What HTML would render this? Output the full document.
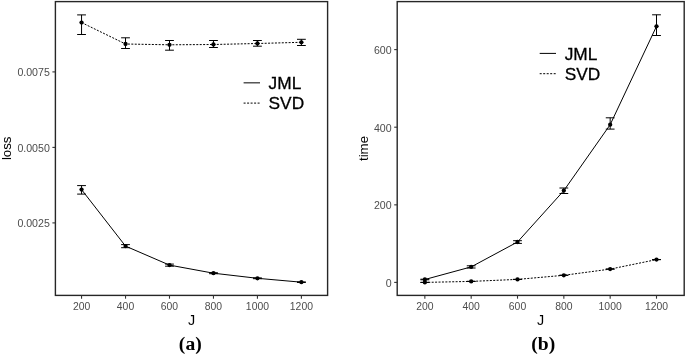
<!DOCTYPE html>
<html><head><meta charset="utf-8"><title>Figure</title>
<style>
html,body{margin:0;padding:0;background:#fff;}
body{width:685px;height:355px;overflow:hidden;}
svg{display:block;}
.ax{font-family:"Liberation Sans",Arial,Helvetica,sans-serif;font-size:10.6px;fill:#4d4d4d;}
.axx{font-family:"Liberation Sans",Arial,Helvetica,sans-serif;font-size:10.4px;fill:#4d4d4d;}
.tj{font-family:"Liberation Sans",Arial,Helvetica,sans-serif;font-size:14.4px;fill:#000;}
.ti{font-family:"Liberation Sans",Arial,Helvetica,sans-serif;font-size:13.25px;fill:#000;}
.lg{font-family:"Liberation Sans",Arial,Helvetica,sans-serif;font-size:17.3px;fill:#000;stroke:#000;stroke-width:0.3px;}
.cap{font-family:"Liberation Serif","Times New Roman",serif;font-weight:bold;font-size:19.6px;fill:#000;}
</style></head><body>
<svg width="685" height="355" viewBox="0 0 685 355">
<rect width="685" height="355" fill="#fff"/>
<rect x="55.4" y="1.6" width="272.2" height="293.8" fill="none" stroke="#262626" stroke-width="1.4"/>
<line x1="81.55" y1="295.4" x2="81.55" y2="298.7" stroke="#333" stroke-width="1.1"/>
<text class="axx" x="81.55" y="309.6" text-anchor="middle">200</text>
<line x1="125.52" y1="295.4" x2="125.52" y2="298.7" stroke="#333" stroke-width="1.1"/>
<text class="axx" x="125.52" y="309.6" text-anchor="middle">400</text>
<line x1="169.49" y1="295.4" x2="169.49" y2="298.7" stroke="#333" stroke-width="1.1"/>
<text class="axx" x="169.49" y="309.6" text-anchor="middle">600</text>
<line x1="213.46" y1="295.4" x2="213.46" y2="298.7" stroke="#333" stroke-width="1.1"/>
<text class="axx" x="213.46" y="309.6" text-anchor="middle">800</text>
<line x1="257.43" y1="295.4" x2="257.43" y2="298.7" stroke="#333" stroke-width="1.1"/>
<text class="axx" x="257.43" y="309.6" text-anchor="middle">1000</text>
<line x1="301.4" y1="295.4" x2="301.4" y2="298.7" stroke="#333" stroke-width="1.1"/>
<text class="axx" x="301.4" y="309.6" text-anchor="middle">1200</text>
<line x1="52.4" y1="71.9" x2="55.4" y2="71.9" stroke="#333" stroke-width="1.1"/>
<text class="ax" x="49.8" y="76.2" text-anchor="end">0.0075</text>
<line x1="52.4" y1="147.4" x2="55.4" y2="147.4" stroke="#333" stroke-width="1.1"/>
<text class="ax" x="49.8" y="151.7" text-anchor="end">0.0050</text>
<line x1="52.4" y1="222.9" x2="55.4" y2="222.9" stroke="#333" stroke-width="1.1"/>
<text class="ax" x="49.8" y="227.2" text-anchor="end">0.0025</text>
<path d="M81.55 22.55L125.52 44L169.49 44.8L213.46 44.5L257.43 43.5L301.4 42.3" fill="none" stroke="#000" stroke-width="1.0" stroke-dasharray="2 1.42"/>
<path d="M77.15 14.9H85.95M77.15 34.5H85.95M81.55 14.9V34.5" stroke="#000" stroke-width="1.0" fill="none"/>
<circle cx="81.55" cy="22.55" r="2.15" fill="#000"/>
<path d="M121.12 37.8H129.92M121.12 48.5H129.92M125.52 37.8V48.5" stroke="#000" stroke-width="1.0" fill="none"/>
<circle cx="125.52" cy="44" r="2.15" fill="#000"/>
<path d="M165.09 40.5H173.89M165.09 50.2H173.89M169.49 40.5V50.2" stroke="#000" stroke-width="1.0" fill="none"/>
<circle cx="169.49" cy="44.8" r="2.15" fill="#000"/>
<path d="M209.06 40.5H217.86M209.06 47.5H217.86M213.46 40.5V47.5" stroke="#000" stroke-width="1.0" fill="none"/>
<circle cx="213.46" cy="44.5" r="2.15" fill="#000"/>
<path d="M253.03 40.5H261.83M253.03 46.2H261.83M257.43 40.5V46.2" stroke="#000" stroke-width="1.0" fill="none"/>
<circle cx="257.43" cy="43.5" r="2.15" fill="#000"/>
<path d="M297 39.3H305.8M297 45.5H305.8M301.4 39.3V45.5" stroke="#000" stroke-width="1.0" fill="none"/>
<circle cx="301.4" cy="42.3" r="2.15" fill="#000"/>
<path d="M81.55 189.6L125.52 246.1L169.49 265.1L213.46 273.2L257.43 278.3L301.4 282.2" fill="none" stroke="#000" stroke-width="1.0"/>
<path d="M77.15 185.6H85.95M77.15 194.1H85.95M81.55 185.6V194.1" stroke="#000" stroke-width="1.0" fill="none"/>
<circle cx="81.55" cy="189.6" r="2.15" fill="#000"/>
<path d="M121.12 244.6H129.92M121.12 247.7H129.92M125.52 244.6V247.7" stroke="#000" stroke-width="1.0" fill="none"/>
<circle cx="125.52" cy="246.1" r="2.15" fill="#000"/>
<path d="M165.09 264.1H173.89M165.09 266.2H173.89M169.49 264.1V266.2" stroke="#000" stroke-width="1.0" fill="none"/>
<circle cx="169.49" cy="265.1" r="2.15" fill="#000"/>
<path d="M209.06 272.7H217.86M209.06 273.7H217.86M213.46 272.7V273.7" stroke="#000" stroke-width="1.0" fill="none"/>
<circle cx="213.46" cy="273.2" r="2.15" fill="#000"/>
<path d="M253.03 277.9H261.83M253.03 278.7H261.83M257.43 277.9V278.7" stroke="#000" stroke-width="1.0" fill="none"/>
<circle cx="257.43" cy="278.3" r="2.15" fill="#000"/>
<path d="M297 281.9H305.8M297 282.5H305.8M301.4 281.9V282.5" stroke="#000" stroke-width="1.0" fill="none"/>
<circle cx="301.4" cy="282.2" r="2.15" fill="#000"/>
<line x1="243.6" y1="82.85" x2="260" y2="82.85" stroke="#000" stroke-width="1.0"/>
<line x1="243.6" y1="103.1" x2="260" y2="103.1" stroke="#000" stroke-width="1.0" stroke-dasharray="2 1.5"/>
<text class="lg" x="268.6" y="88.9">JML</text>
<text class="lg" x="268.6" y="109.2">SVD</text>
<text class="ti" transform="translate(10.8 148.3) rotate(-90)" text-anchor="middle">loss</text>
<text class="tj" x="191.7" y="324.5" text-anchor="middle">J</text>
<text class="cap" x="190.3" y="350.2" text-anchor="middle">(a)</text>
<rect x="397.2" y="1.6" width="287" height="293.8" fill="none" stroke="#262626" stroke-width="1.4"/>
<line x1="424.85" y1="295.4" x2="424.85" y2="298.7" stroke="#333" stroke-width="1.1"/>
<text class="axx" x="424.85" y="309.6" text-anchor="middle">200</text>
<line x1="471.18" y1="295.4" x2="471.18" y2="298.7" stroke="#333" stroke-width="1.1"/>
<text class="axx" x="471.18" y="309.6" text-anchor="middle">400</text>
<line x1="517.51" y1="295.4" x2="517.51" y2="298.7" stroke="#333" stroke-width="1.1"/>
<text class="axx" x="517.51" y="309.6" text-anchor="middle">600</text>
<line x1="563.84" y1="295.4" x2="563.84" y2="298.7" stroke="#333" stroke-width="1.1"/>
<text class="axx" x="563.84" y="309.6" text-anchor="middle">800</text>
<line x1="610.17" y1="295.4" x2="610.17" y2="298.7" stroke="#333" stroke-width="1.1"/>
<text class="axx" x="610.17" y="309.6" text-anchor="middle">1000</text>
<line x1="656.5" y1="295.4" x2="656.5" y2="298.7" stroke="#333" stroke-width="1.1"/>
<text class="axx" x="656.5" y="309.6" text-anchor="middle">1200</text>
<line x1="394.2" y1="49.6" x2="397.2" y2="49.6" stroke="#333" stroke-width="1.1"/>
<text class="ax" x="391.6" y="53.9" text-anchor="end">600</text>
<line x1="394.2" y1="127.2" x2="397.2" y2="127.2" stroke="#333" stroke-width="1.1"/>
<text class="ax" x="391.6" y="131.5" text-anchor="end">400</text>
<line x1="394.2" y1="204.85" x2="397.2" y2="204.85" stroke="#333" stroke-width="1.1"/>
<text class="ax" x="391.6" y="209.15" text-anchor="end">200</text>
<line x1="394.2" y1="282.4" x2="397.2" y2="282.4" stroke="#333" stroke-width="1.1"/>
<text class="ax" x="391.6" y="286.7" text-anchor="end">0</text>
<path d="M424.85 282.4L471.18 281.4L517.51 279.4L563.84 275.3L610.17 269.1L656.5 259.6" fill="none" stroke="#000" stroke-width="1.0" stroke-dasharray="2 1.42"/>
<path d="M420.45 282.3H429.25M420.45 282.5H429.25M424.85 282.3V282.5" stroke="#000" stroke-width="1.0" fill="none"/>
<circle cx="424.85" cy="282.4" r="2.15" fill="#000"/>
<path d="M466.78 281.3H475.58M466.78 281.5H475.58M471.18 281.3V281.5" stroke="#000" stroke-width="1.0" fill="none"/>
<circle cx="471.18" cy="281.4" r="2.15" fill="#000"/>
<path d="M513.11 279.3H521.91M513.11 279.5H521.91M517.51 279.3V279.5" stroke="#000" stroke-width="1.0" fill="none"/>
<circle cx="517.51" cy="279.4" r="2.15" fill="#000"/>
<path d="M559.44 275.2H568.24M559.44 275.4H568.24M563.84 275.2V275.4" stroke="#000" stroke-width="1.0" fill="none"/>
<circle cx="563.84" cy="275.3" r="2.15" fill="#000"/>
<path d="M605.77 269H614.57M605.77 269.2H614.57M610.17 269V269.2" stroke="#000" stroke-width="1.0" fill="none"/>
<circle cx="610.17" cy="269.1" r="2.15" fill="#000"/>
<path d="M652.1 259.5H660.9M652.1 259.7H660.9M656.5 259.5V259.7" stroke="#000" stroke-width="1.0" fill="none"/>
<circle cx="656.5" cy="259.6" r="2.15" fill="#000"/>
<path d="M424.85 279.5L471.18 266.9L517.51 242L563.84 190.6L610.17 124.7L656.5 26.3" fill="none" stroke="#000" stroke-width="1.0"/>
<path d="M420.45 279.2H429.25M420.45 279.8H429.25M424.85 279.2V279.8" stroke="#000" stroke-width="1.0" fill="none"/>
<circle cx="424.85" cy="279.5" r="2.15" fill="#000"/>
<path d="M466.78 265.8H475.58M466.78 268H475.58M471.18 265.8V268" stroke="#000" stroke-width="1.0" fill="none"/>
<circle cx="471.18" cy="266.9" r="2.15" fill="#000"/>
<path d="M513.11 240.7H521.91M513.11 243.4H521.91M517.51 240.7V243.4" stroke="#000" stroke-width="1.0" fill="none"/>
<circle cx="517.51" cy="242" r="2.15" fill="#000"/>
<path d="M559.44 188H568.24M559.44 193.5H568.24M563.84 188V193.5" stroke="#000" stroke-width="1.0" fill="none"/>
<circle cx="563.84" cy="190.6" r="2.15" fill="#000"/>
<path d="M605.77 117.8H614.57M605.77 129.1H614.57M610.17 117.8V129.1" stroke="#000" stroke-width="1.0" fill="none"/>
<circle cx="610.17" cy="124.7" r="2.15" fill="#000"/>
<path d="M652.1 14.8H660.9M652.1 35.5H660.9M656.5 14.8V35.5" stroke="#000" stroke-width="1.0" fill="none"/>
<circle cx="656.5" cy="26.3" r="2.15" fill="#000"/>
<line x1="539.7" y1="53.4" x2="556" y2="53.4" stroke="#000" stroke-width="1.0"/>
<line x1="539.7" y1="73.7" x2="556" y2="73.7" stroke="#000" stroke-width="1.0" stroke-dasharray="2 1.5"/>
<text class="lg" x="564.7" y="59.5">JML</text>
<text class="lg" x="564.7" y="79.8">SVD</text>
<text class="ti" transform="translate(367.9 148.5) rotate(-90)" text-anchor="middle">time</text>
<text class="tj" x="540.7" y="324.5" text-anchor="middle">J</text>
<text class="cap" x="543.3" y="350.2" text-anchor="middle">(b)</text>
</svg>
</body></html>
